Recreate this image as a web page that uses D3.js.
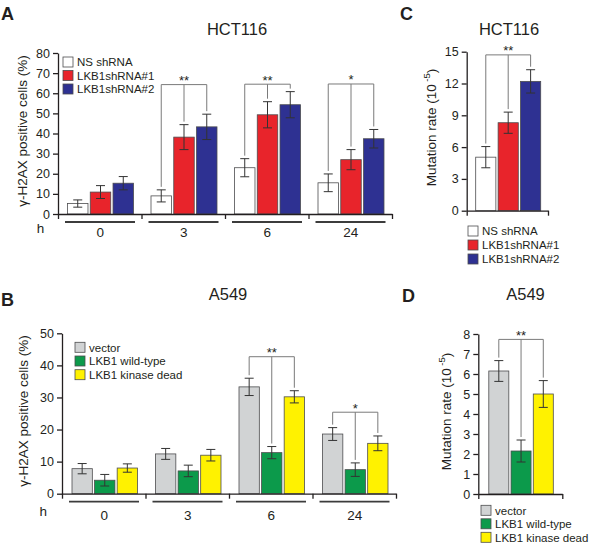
<!DOCTYPE html>
<html><head><meta charset="utf-8">
<script src="https://cdn.jsdelivr.net/npm/d3@7"></script>
<style>body{margin:0;background:#fff}svg{display:block}</style>
</head><body><svg id="c" width="590" height="548"></svg>
<script>
// ---------- data ----------
const timeGroups = ["0", "3", "6", "24"];
const hctSeries = ["NS shRNA", "LKB1shRNA#1", "LKB1shRNA#2"];
const hctColors = ["#ffffff", "#e8242b", "#2e3192"];
const a549Series = ["vector", "LKB1 wild-type", "LKB1 kinase dead"];
const a549Colors = ["#d1d3d4", "#0c9a4b", "#fff200"];

// Panel A: gamma-H2AX positive cells (%), HCT116
const gammaHctNS = [5.2, 9.0, 23.0, 15.5];
const gammaHctNSErr = [1.8, 3.0, 4.5, 4.4];
const gammaHctSh1 = [10.9, 38.2, 49.3, 27.0];
const gammaHctSh1Err = [3.2, 6.2, 6.5, 5.0];
const gammaHctSh2 = [15.3, 43.3, 54.3, 37.4];
const gammaHctSh2Err = [3.3, 6.3, 6.5, 4.6];
const sigGroupsA = ["3", "6", "24"];
const sigLabelsA = ["**", "**", "*"];
const sigLevelsA = [64.3, 64.5, 64.6];
const ticksA = [0, 10, 20, 30, 40, 50, 60, 70, 80];

// Panel B: gamma-H2AX positive cells (%), A549
const gammaA549Vec = [7.8, 12.4, 33.3, 18.6];
const gammaA549VecErr = [1.6, 1.7, 2.7, 2.0];
const gammaA549WT = [4.2, 7.1, 12.8, 7.5];
const gammaA549WTErr = [1.8, 1.8, 1.9, 2.1];
const gammaA549KD = [8.0, 12.0, 30.2, 15.7];
const gammaA549KDErr = [1.3, 1.8, 1.9, 2.3];
const sigGroupsB = ["6", "24"];
const sigLabelsB = ["**", "*"];
const sigLevelsB = [42.7, 25.4];
const ticksB = [0, 10, 20, 30, 40, 50];

// Panel C: mutation rate (10^-5), HCT116
const mutHct = [5.05, 8.3, 12.2];
const mutHctErr = [1.0, 1.0, 1.1];
const sigLevelC = 14.7;
const ticksC = [0, 3, 6, 9, 12, 15];

// Panel D: mutation rate (10^-5), A549
const mutA549 = [6.15, 2.15, 5.0];
const mutA549Err = [0.52, 0.55, 0.67];
const sigLevelD = 7.73;
const ticksD = [0, 1, 2, 3, 4, 5, 6, 7, 8];

// ---------- drawing ----------
const FONT = "'Liberation Sans', Arial, Helvetica, sans-serif";
const svg = d3.select("#c").style("font-family", FONT);
const INK = "#231f20";

function drawPanel(o) {
  const g = svg.append("g");
  const y = d3.scaleLinear().domain(o.yDomain).range(o.yRange);
  const xOuter = d3.scaleBand().domain(o.groups).range(o.xRange).paddingInner(0).paddingOuter(0);
  const xInner = d3.scaleBand().domain(o.series).range(o.innerRange).paddingInner(0.1).paddingOuter(0);
  const bw = xInner.bandwidth();
  const y0 = y(0);

  // bars + error bars
  o.series.forEach((s, i) => {
    const vals = o.values[i], errs = o.errors[i];
    o.groups.forEach((grp, j) => {
      const x = xOuter(grp) + xInner(s);
      g.append("rect").attr("x", x).attr("y", y(vals[j])).attr("width", bw)
        .attr("height", y0 - y(vals[j])).attr("fill", o.colors[i])
        .attr("stroke", "#4d4d4f").attr("stroke-width", 0.8);
      const cx = x + bw / 2, top = y(vals[j] + errs[j]), bot = y(vals[j] - errs[j]);
      const eb = g.append("g").attr("stroke", "#333").attr("stroke-width", 1).attr("fill", "none");
      eb.append("line").attr("x1", cx).attr("x2", cx).attr("y1", top).attr("y2", bot);
      eb.append("line").attr("x1", cx - 4.5).attr("x2", cx + 4.5).attr("y1", top).attr("y2", top);
      eb.append("line").attr("x1", cx - 4.5).attr("x2", cx + 4.5).attr("y1", bot).attr("y2", bot);
    });
  });

  // significance brackets
  o.sig.forEach(sg => {
    const j = o.groups.indexOf(sg.group);
    const ly = y(sg.level);
    const centers = o.series.map(s => xOuter(sg.group) + xInner(s) + bw / 2);
    const br = g.append("g").attr("stroke", "#7a7a7a").attr("stroke-width", 1).attr("fill", "none");
    br.append("line").attr("x1", centers[0]).attr("x2", centers[2]).attr("y1", ly).attr("y2", ly);
    centers.forEach((cx, i) => {
      const tip = y(o.values[i][j] + o.errors[i][j]) - 3;
      br.append("line").attr("x1", cx).attr("x2", cx).attr("y1", ly).attr("y2", tip);
    });
    g.append("text").attr("x", centers[1]).attr("y", ly + 0.5).attr("text-anchor", "middle")
      .attr("font-size", 13).attr("fill", INK).text(sg.label);
  });

  // y axis
  const ya = g.append("g").attr("transform", `translate(${o.xRange[0]},0)`)
    .call(d3.axisLeft(y).tickValues(o.ticks).tickSize(5).tickSizeOuter(0).tickPadding(3));
  ya.attr("font-family", FONT).attr("font-size", o.tickFont || 12.5);
  ya.selectAll("path,line").attr("stroke", INK).attr("stroke-width", 1.3);
  ya.selectAll("text").attr("fill", INK);

  // x axis (band boundaries)
  const xb = d3.scaleLinear().domain([0, o.groups.length]).range(o.xRange);
  const xa = g.append("g").attr("transform", `translate(0,${y0})`)
    .call(d3.axisBottom(xb).tickValues(d3.range(o.groups.length + 1)).tickSizeInner(5).tickSizeOuter(0).tickFormat(""));
  xa.selectAll("path,line").attr("stroke", INK).attr("stroke-width", 1.3);

  // group underline + labels
  if (o.groupLabels) {
    o.groups.forEach(grp => {
      const gx = xOuter(grp);
      g.append("line").attr("x1", gx + 7).attr("x2", gx + 77).attr("y1", y0 + 8).attr("y2", y0 + 8)
        .attr("stroke", "#3c3c3c").attr("stroke-width", 1.8);
      g.append("text").attr("x", gx + xOuter.bandwidth() / 2 + 0.5).attr("y", y0 + o.labelDy)
        .attr("text-anchor", "middle").attr("font-size", 13.5).attr("fill", INK).text(grp);
    });
    g.append("text").attr("x", o.hX).attr("y", y0 + o.labelDy - 4).attr("text-anchor", "middle")
      .attr("font-size", 13.5).attr("fill", INK).text("h");
  }

  // y label
  const yl = g.append("text").attr("transform", `translate(${o.yLabelX},${o.yLabelY}) rotate(-90)`)
    .attr("text-anchor", "middle").attr("font-size", 13.5).attr("fill", INK);
  if (o.mut) {
    yl.append("tspan").text("Mutation rate (10");
    yl.append("tspan").attr("font-size", 9.5).attr("dy", -6).text(" -5");
    yl.append("tspan").attr("dy", 6).text(")");
  } else {
    yl.text("\u03b3-H2AX positive cells (%)");
  }

  // title + letter
  g.append("text").attr("x", o.titleX).attr("y", o.titleY).attr("text-anchor", "middle")
    .attr("font-size", 16.5).attr("fill", INK).text(o.title);
  g.append("text").attr("x", o.letterX).attr("y", o.letterY).attr("font-size", 18)
    .attr("font-weight", "bold").attr("fill", INK).text(o.letter);

  // legend
  o.series.forEach((s, i) => {
    const ry = o.legY + i * o.legStep;
    g.append("rect").attr("x", o.legX).attr("y", ry - 5).attr("width", 10).attr("height", 10)
      .attr("fill", o.colors[i]).attr("stroke", "#4d4d4f").attr("stroke-width", 0.8);
    g.append("text").attr("x", o.legX + 14).attr("y", ry + 4.2).attr("font-size", 11.5)
      .attr("fill", INK).text(s);
  });
}

drawPanel({
  letter: "A", letterX: 1, letterY: 19.5, title: "HCT116", titleX: 237, titleY: 34.5,
  groups: timeGroups, series: hctSeries, colors: hctColors,
  values: [gammaHctNS, gammaHctSh1, gammaHctSh2], errors: [gammaHctNSErr, gammaHctSh1Err, gammaHctSh2Err],
  sig: sigGroupsA.map((gr, k) => ({group: gr, label: sigLabelsA[k], level: sigLevelsA[k]})),
  yDomain: [0, 80], yRange: [214, 53], xRange: [58, 392], innerRange: [9.5, 75.5], ticks: ticksA,
  groupLabels: true, labelDy: 23, hX: 40.5, yLabelX: 27, yLabelY: 131,
  legX: 63, legY: 62, legStep: 13.5
});

drawPanel({
  letter: "B", letterX: 1, letterY: 305.5, title: "A549", titleX: 228, titleY: 299.5,
  groups: timeGroups, series: a549Series, colors: a549Colors,
  values: [gammaA549Vec, gammaA549WT, gammaA549KD], errors: [gammaA549VecErr, gammaA549WTErr, gammaA549KDErr],
  sig: sigGroupsB.map((gr, k) => ({group: gr, label: sigLabelsB[k], level: sigLevelsB[k]})),
  yDomain: [0, 50], yRange: [493.7, 333.3], xRange: [62, 396], innerRange: [10, 75.5], ticks: ticksB,
  groupLabels: true, labelDy: 26.5, hX: 43.2, yLabelX: 28, yLabelY: 411,
  legX: 75, legY: 347.3, legStep: 13.7
});

drawPanel({
  letter: "C", letterX: 400, letterY: 19.5, title: "HCT116", titleX: 509, titleY: 34.5,
  groups: ["HCT116"], series: hctSeries, colors: hctColors,
  values: mutHct.map(v => [v]), errors: mutHctErr.map(v => [v]),
  sig: [{group: "HCT116", label: "**", level: sigLevelC}],
  yDomain: [0, 15], yRange: [210.7, 51.7], xRange: [466.7, 548], innerRange: [9, 74], ticks: ticksC,
  groupLabels: false, yLabelX: 436, yLabelY: 127.5, mut: true,
  legX: 468, legY: 231, legStep: 14
});

drawPanel({
  letter: "D", letterX: 402, letterY: 301.5, title: "A549", titleX: 525.5, titleY: 299.5,
  groups: ["A549"], series: a549Series, colors: a549Colors,
  values: mutA549.map(v => [v]), errors: mutA549Err.map(v => [v]),
  sig: [{group: "A549", label: "**", level: sigLevelD}],
  yDomain: [0, 8], yRange: [494, 334], xRange: [478.3, 562.3], innerRange: [10.5, 75], ticks: ticksD,
  groupLabels: false, yLabelX: 451, yLabelY: 411.5, mut: true,
  legX: 481, legY: 510.3, legStep: 13.5
});
</script></body></html>
